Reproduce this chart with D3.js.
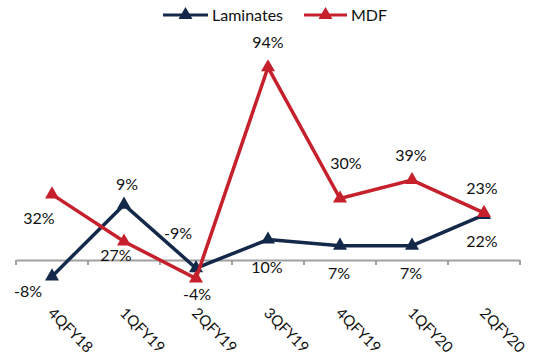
<!DOCTYPE html>
<html>
<head>
<meta charset="utf-8">
<script src="https://cdn.jsdelivr.net/npm/d3@7"></script>
<style>
  html, body { margin: 0; padding: 0; background: #ffffff; }
  svg { display: block; }
  text { font-family: Lato, "Open Sans", sans-serif; fill: #111; }
</style>
</head>
<body>
<svg id="chart" width="536" height="355"></svg>
<script>
// Quarterly growth (%), by segment
const categories = ["4QFY18", "1QFY19", "2QFY19", "3QFY19", "4QFY19", "1QFY20", "2QFY20"];
const laminates = [-8, 27, -4, 10, 7, 7, 22];
const mdf = [32, 9, -9, 94, 30, 39, 23];

const W = 536, H = 355;
const svg = d3.select("#chart");

const x = d3.scaleBand().domain(categories).range([16, 520]).padding(0);
const y = d3.scaleLinear().domain([-20, 100]).range([301, 55]);

const NAVY = "#14294a";
const RED = "#c5202b";

// Category axis along the zero line
const axis = d3.axisBottom(x).tickSize(0).tickFormat("");
const gx = svg.append("g").attr("transform", `translate(0,${y(0)})`).call(axis);
gx.select(".domain").attr("stroke", "#a0a0a0").attr("stroke-width", 2);
gx.selectAll(".tick").remove();

// Tick marks at the band boundaries
const bounds = categories.map(c => x(c)).concat([x.range()[1]]);
svg.append("g").selectAll("line").data(bounds).join("line")
  .attr("x1", d => d).attr("x2", d => d)
  .attr("y1", y(0)).attr("y2", y(0) + 5)
  .attr("stroke", "#a0a0a0").attr("stroke-width", 2);

// Rotated category labels
svg.append("g").selectAll("text").data(categories).join("text")
  .attr("transform", d => `translate(${x(d) + x.bandwidth() / 2 - 5},${314}) rotate(45)`)
  .attr("font-size", 15)
  .attr("text-anchor", "start")
  .text(d => d);

const cx = d => x(d) + x.bandwidth() / 2;

const series = [
  { name: "Laminates", values: laminates, color: NAVY,
    // label placement nudges (text centre relative to the point)
    nudge: [[-24, 15], [-8, 51], [1, 26], [-1, 28], [-1, 28], [-1, 28], [-2, 26]] },
  { name: "MDF", values: mdf, color: RED,
    nudge: [[-13, 24], [3, -57], [-18, -45], [0, -25], [6, -35], [-1, -25], [-2, -25]] }
];

const line = d3.line().x(d => cx(d.cat)).y(d => y(d.v));
const tri = d3.symbol().type(d3.symbolTriangle).size(85);

series.forEach(s => {
  const pts = categories.map((c, i) => ({ cat: c, v: s.values[i], i }));
  svg.append("path").datum(pts)
    .attr("d", line)
    .attr("fill", "none")
    .attr("stroke", s.color)
    .attr("stroke-width", 3.5)
    .attr("stroke-linejoin", "miter");
  svg.append("g").selectAll("path").data(pts).join("path")
    .attr("d", tri)
    .attr("transform", d => `translate(${cx(d.cat)},${y(d.v)})`)
    .attr("fill", s.color);
});

// Value labels
series.forEach(s => {
  const pts = categories.map((c, i) => ({ cat: c, v: s.values[i], i }));
  svg.append("g").selectAll("text").data(pts).join("text")
    .attr("x", d => cx(d.cat) + s.nudge[d.i][0])
    .attr("y", d => y(d.v) + s.nudge[d.i][1] + 5.8)
    .attr("text-anchor", "middle")
    .attr("font-size", 16)
    .text(d => `${d.v}%`);
});

// Legend
const legend = [
  { name: "Laminates", color: NAVY, x0: 163, x1: 208 },
  { name: "MDF", color: RED, x0: 304, x1: 347 }
];
const lg = svg.append("g");
legend.forEach(l => {
  lg.append("line")
    .attr("x1", l.x0).attr("x2", l.x1).attr("y1", 15).attr("y2", 15)
    .attr("stroke", l.color).attr("stroke-width", 3);
  lg.append("path").attr("d", tri)
    .attr("transform", `translate(${(l.x0 + l.x1) / 2},${15})`)
    .attr("fill", l.color);
  lg.append("text")
    .attr("x", l.x1 + 4).attr("y", 15 + 5.8)
    .attr("font-size", 16)
    .text(l.name);
});
</script>
</body>
</html>
